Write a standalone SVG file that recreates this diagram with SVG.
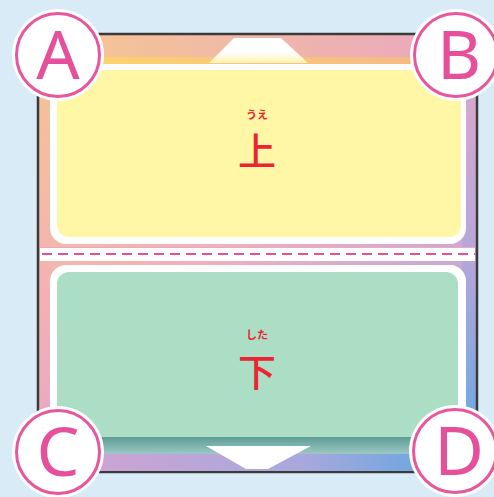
<svg xmlns="http://www.w3.org/2000/svg" width="494" height="497" viewBox="0 0 494 497">
<defs>
<style>
.ring{fill:#fff;stroke:#e8579c;stroke-width:3}
.halo{fill:#fbfdff}
.letter{font-family:"Noto Sans","Liberation Sans",sans-serif;font-size:68px;fill:#e6509a;text-anchor:middle}
.kanji{font-family:"Noto Sans CJK JP",sans-serif;fill:#ea2430;text-anchor:middle}
</style>
<linearGradient id="frameG" x1="0" y1="0" x2="1" y2="1">
<stop offset="0" stop-color="#f6c58e"/>
<stop offset="0.45" stop-color="#f0b0bc"/>
<stop offset="0.75" stop-color="#c8a8d8"/>
<stop offset="1" stop-color="#5ea6e2"/>
</linearGradient>
<linearGradient id="topG" x1="0" y1="0" x2="1" y2="0">
<stop offset="0" stop-color="#f6c890"/>
<stop offset="1" stop-color="#e9a6c2"/>
</linearGradient>
<linearGradient id="stripeG" x1="0" y1="0" x2="1" y2="0">
<stop offset="0" stop-color="#fdd66a"/>
<stop offset="1" stop-color="#f4b688"/>
</linearGradient>
<linearGradient id="leftG" x1="0" y1="0" x2="0" y2="1">
<stop offset="0" stop-color="#f5c692"/>
<stop offset="0.6" stop-color="#f2b2b4"/>
<stop offset="1" stop-color="#e4a6c8"/>
</linearGradient>
<linearGradient id="rightG" x1="0" y1="0" x2="0" y2="1">
<stop offset="0" stop-color="#e4a8c8"/>
<stop offset="0.5" stop-color="#b6a6da"/>
<stop offset="1" stop-color="#5ea8e2"/>
</linearGradient>
<linearGradient id="tealG" x1="0" y1="0" x2="0" y2="1">
<stop offset="0" stop-color="#5e9c96"/>
<stop offset="1" stop-color="#9cc8c4"/>
</linearGradient>
<linearGradient id="botG" x1="0" y1="0" x2="1" y2="0">
<stop offset="0" stop-color="#d6a2d2"/>
<stop offset="0.6" stop-color="#a8a8dc"/>
<stop offset="1" stop-color="#56a6e2"/>
</linearGradient>
<linearGradient id="triTop" x1="0" y1="0" x2="0" y2="1">
<stop offset="0.55" stop-color="#ffffff"/>
<stop offset="1" stop-color="#fff3b0"/>
</linearGradient>
</defs>
<rect width="494" height="497" fill="#d9ebf7"/>
<g id="frame">
<rect x="38" y="34" width="439" height="438" fill="url(#frameG)" stroke="#3a3a3a" stroke-width="2.5"/>
<rect x="40" y="36" width="12" height="435" fill="url(#leftG)"/>
<rect x="462" y="36" width="13" height="435" fill="url(#rightG)"/>
<rect x="40" y="36" width="435" height="22" fill="url(#topG)"/>
<rect x="40" y="57" width="435" height="13" fill="url(#stripeG)"/>
<polygon points="209,63 234,38 281,38 308,63" fill="url(#triTop)"/>
</g>
<g id="upper-panel">
<rect x="50" y="64" width="416" height="180" rx="16" fill="#ffffff"/>
<rect x="57" y="70" width="404" height="167" rx="12" fill="#fff6a6"/>
<text class="kanji" x="257" y="119" font-size="11" font-weight="bold">うえ</text>
<text class="kanji" x="257" y="165" font-size="38" font-weight="500">上</text>
</g>
<g id="divider">
<rect x="40" y="247" width="435" height="14" fill="#ffffff"/>
<line x1="40" y1="247.5" x2="475" y2="247.5" stroke="#f0a8c0" stroke-width="1"/>
<line x1="42" y1="254" x2="475" y2="254" stroke="#e6508c" stroke-width="2.2" stroke-dasharray="10 6"/>
</g>
<g id="lower-panel">
<rect x="50" y="265" width="416" height="185" rx="16" fill="#ffffff"/>
<rect x="57" y="272" width="401" height="165" rx="12" fill="#abdec4"/>
<rect x="57" y="420" width="401" height="17" fill="#abdec4"/>
<text class="kanji" x="257" y="339" font-size="11" font-weight="bold">した</text>
<text class="kanji" x="257" y="386" font-size="38" font-weight="500">下</text>
</g>
<g id="bottom-band">
<rect x="40" y="437" width="435" height="17" fill="url(#tealG)"/>
<rect x="40" y="454" width="435" height="17" fill="url(#botG)"/>
<polygon points="206,446 311,446 268,469 246,469" fill="#ffffff"/>
</g>
<g id="corner-A">
<circle cx="58" cy="55" r="46" class="halo"/>
<circle cx="58" cy="55" r="41.5" class="ring"/>
<text class="letter" x="58" y="79">A</text>
</g>
<g id="corner-B">
<circle cx="456" cy="55" r="46" class="halo"/>
<circle cx="456" cy="55" r="41.5" class="ring"/>
<text class="letter" x="459" y="79">B</text>
</g>
<g id="corner-C">
<circle cx="58" cy="452" r="46" class="halo"/>
<circle cx="58" cy="452" r="41.5" class="ring"/>
<text class="letter" x="58" y="476">C</text>
</g>
<g id="corner-D">
<circle cx="455" cy="451" r="46" class="halo"/>
<circle cx="455" cy="451" r="41.5" class="ring"/>
<text class="letter" x="459" y="475">D</text>
</g>
</svg>
